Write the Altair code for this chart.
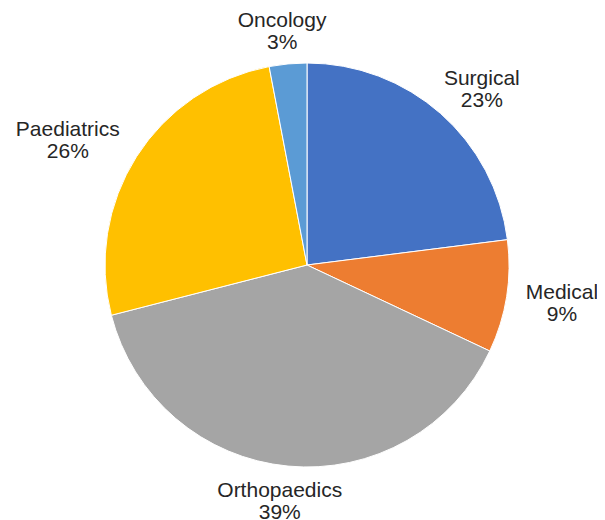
import altair as alt
import pandas as pd

categories = ["Surgical", "Medical", "Orthopaedics", "Paediatrics", "Oncology"]
values = [23, 9, 39, 26, 3]
colors = ["#4472C4", "#ED7D31", "#A5A5A5", "#FFC000", "#5B9BD5"]

R = 202
CX, CY = 299, 257
FS, LH = 21, 22
GAP = 12
HH = 22

df = pd.DataFrame({
    "category": categories,
    "value": values,
    "order": list(range(len(categories))),
    "label": [f"{c}\n{v}%" for c, v in zip(categories, values)],
})

pie = alt.Chart(df).mark_arc(radius=R, stroke="white", strokeWidth=1).encode(
    theta=alt.Theta("value:Q", stack=True),
    order=alt.Order("order:Q"),
    color=alt.Color("category:N", scale=alt.Scale(domain=categories, range=colors), legend=None),
    x=alt.value(CX),
    y=alt.value(CY),
)

text = alt.Chart(df).transform_joinaggregate(
    total="sum(value)"
).transform_window(
    cum="sum(value)", sort=[alt.SortField("order")], frame=[None, 0]
).transform_calculate(
    mid="(datum.cum - datum.value / 2) / datum.total * 2 * PI",
    hw=f"length(datum.category) * {FS} * 0.30",
).transform_calculate(
    lx=f"{CX} + ({R} + {GAP}) * sin(datum.mid) + datum.hw * sin(datum.mid)",
    ly=f"{CY} - ({R} + {GAP}) * cos(datum.mid) - {HH} * cos(datum.mid)",
).mark_text(
    font="Liberation Sans", fontSize=FS, lineHeight=LH, lineBreak="\n",
    color="#262626", align="center", baseline="middle", dy=-LH / 2 + 2,
).encode(
    text="label:N",
    x=alt.X("lx:Q", scale=None),
    y=alt.Y("ly:Q", scale=None),
)

chart = (pie + text).properties(
    width=589, height=512, padding=0,
    autosize=alt.AutoSizeParams(type="none"),
).configure_view(stroke=None)
chart.save("out.html", embed_options={"renderer": "svg", "actions": False})
